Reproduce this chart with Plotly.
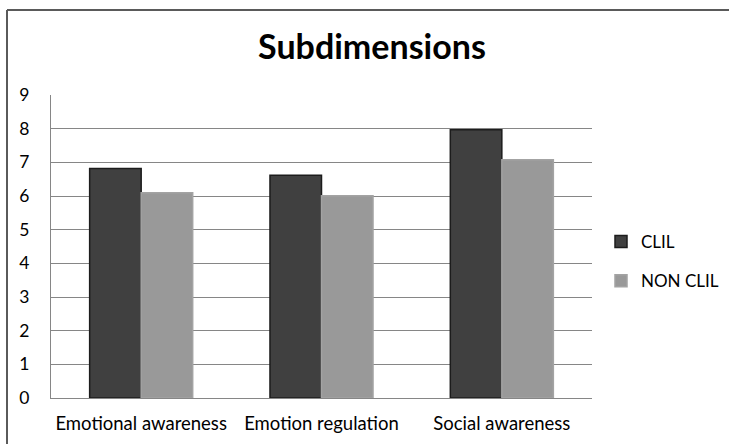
import plotly.graph_objects as go

categories = ["Emotional awareness", "Emotion regulation", "Social awareness"]
clil = [6.82, 6.62, 7.97]
non_clil = [6.10, 6.01, 7.08]
y_ticks = [0, 1, 2, 3, 4, 5, 6, 7, 8, 9]

FONT = "Lato"

fig = go.Figure()
fig.add_trace(go.Bar(
    x=categories, y=clil, name="CLIL",
    marker=dict(color="#404040", line=dict(color="#1c1c1c", width=1.5)),
    legendgroup="a",
))
fig.add_trace(go.Bar(
    x=categories, y=non_clil, name="NON CLIL",
    marker=dict(color="#999999", line=dict(color="#a3a3a3", width=1.5)),
    legendgroup="b",
))

fig.update_layout(
    width=729, height=444,
    margin=dict(l=51, r=137, t=95, b=46, autoexpand=False),
    paper_bgcolor="white", plot_bgcolor="white",
    barmode="group", bargap=0.4286, bargroupgap=0,
    font=dict(family=FONT, size=17, color="black"),
    title=dict(text="<b>Subdimensions</b>", x=372/729, xanchor="center",
               y=1 - 47/444, yanchor="middle",
               font=dict(family=FONT, size=34, color="black")),
    legend=dict(x=1 + 9/541, xanchor="left", y=1 - (261.5 - 95)/303, yanchor="middle",
                font=dict(family=FONT, size=17, color="black"),
                tracegroupgap=14, itemwidth=30, bgcolor="rgba(0,0,0,0)"),
    showlegend=True,
    shapes=[
        dict(type="line", xref="paper", yref="paper",
             x0=-44/541, x1=800/541, y0=1 + 85/303, y1=1 + 85/303,
             line=dict(color="#5a5a5a", width=2)),
        dict(type="line", xref="paper", yref="paper",
             x0=-44/541, x1=-44/541, y0=1 + 85/303, y1=-60/303,
             line=dict(color="#5a5a5a", width=2)),
    ],
)
fig.update_xaxes(showline=True, linecolor="#868686", linewidth=1.3,
                 ticks="", ticklabelstandoff=9, showgrid=False, automargin=False,
                 tickfont=dict(family=FONT, size=18.5, color="black"))
fig.update_yaxes(range=[0, 9], tickvals=y_ticks, showline=True,
                 linecolor="#868686", linewidth=1.3, showgrid=True,
                 gridcolor="#868686", gridwidth=1.3, zeroline=False,
                 ticks="", ticklabelstandoff=17, automargin=False,
                 tickfont=dict(family=FONT, size=17.5, color="black"))

fig.write_html("out.html", config={"displayModeBar": False},
               post_script="document.body.style.margin='0';document.body.style.overflow='hidden';")
